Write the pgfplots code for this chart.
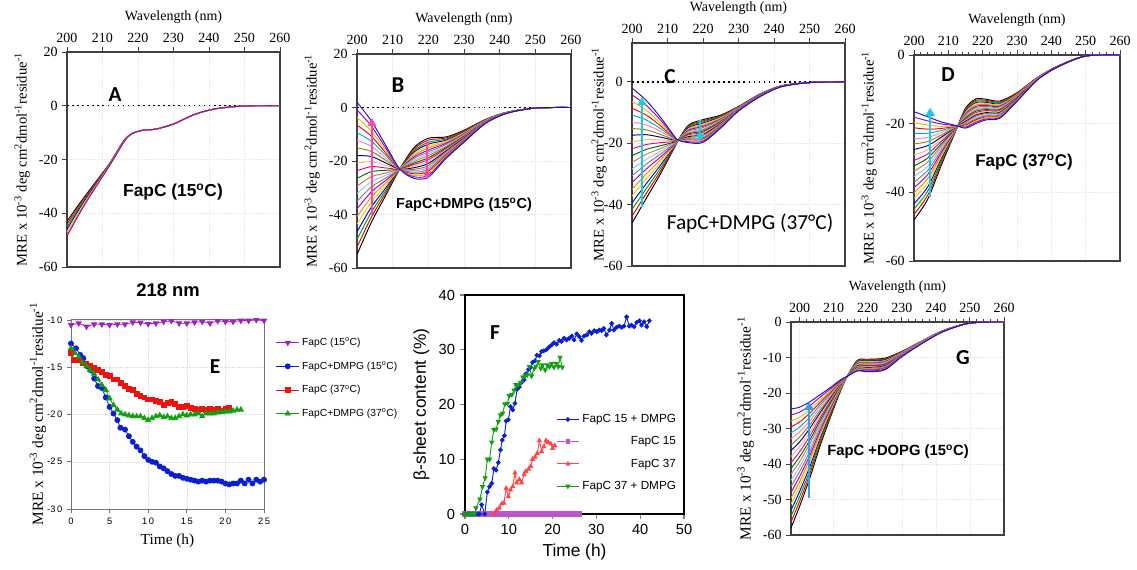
\documentclass[border=0pt]{standalone}
\usepackage{fontspec}
\setmainfont{Liberation Serif}
\newfontfamily\arial{Liberation Sans}
\newfontfamily\calibri{Carlito}
\usepackage{pgfplots}
\usepackage{pgfplotstable}
\pgfplotsset{compat=1.18}
\usetikzlibrary{arrows.meta}

\definecolor{pinkA}{HTML}{FF45A8}
\definecolor{cyanA}{HTML}{1EC8E8}
\definecolor{blueG}{HTML}{3D9BE9}
\definecolor{ePurple}{HTML}{A020C0}
\definecolor{eBlue}{HTML}{0A1FD0}
\definecolor{eRed}{HTML}{F01010}
\definecolor{eGreen}{HTML}{10A010}
\definecolor{fMag}{HTML}{BB55CC}
\definecolor{fRed}{HTML}{FF4545}

\pgfplotscreateplotcyclelist{spec}{
{color=black},{color=red!90!black},{color={rgb,255:red,0;green,160;blue,0}},{color=blue!90!black},
{color={rgb,255:red,240;green,208;blue,0}},{color=orange},{color={rgb,255:red,160;green,0;blue,192}},{color=gray},
{color={rgb,255:red,160;green,184;blue,255}},{color=brown},{color={rgb,255:red,0;green,100;blue,0}},{color=magenta},
{color={rgb,255:red,255;green,176;blue,128}},{color={rgb,255:red,0;green,0;blue,128}},{color=olive},
{color={rgb,255:red,255;green,128;blue,192}},{color={rgb,255:red,0;green,170;blue,200}},{color=red},
{color={rgb,255:red,230;green,190;blue,0}},{color={rgb,255:red,150;green,0;blue,200}},{color={rgb,255:red,20;green,20;blue,200}}}

\newcommand\tk{\fontsize{10.5}{12}\selectfont}
\newcommand\lbx{\fontsize{10.5}{12}\selectfont}
\newcommand\lby{\fontsize{11}{12}\selectfont}

\pgfplotsset{
  cdax/.style={
    scale only axis, anchor=north west,
    xmin=200, xmax=260, xtick={200,210,...,260},
    xtick pos=right, xticklabel pos=right, ytick pos=left,
    tick align=outside, major tick length=3.5pt,
    axis line style={line width=0.9pt, black!75},
    tick style={line width=0.7pt, black!75},
    grid=major, major grid style={black!10, densely dotted, line width=0.3pt},
    xlabel={Wavelength (nm)},
    ylabel={MRE x 10\textsuperscript{-3} deg cm\textsuperscript{2}dmol\textsuperscript{-1}residue\textsuperscript{-1}},
    ticklabel style={font=\tk},
    xlabel style={font=\lbx},
    ylabel style={font=\lby},
    /pgf/number format/assume math mode=true,
    cycle list name=spec,
    every axis plot/.append style={smooth, line width=0.7pt},
  },
}

\begin{document}

\pgfplotstableread[header=false]{
200 -43 -44 -45 -46 -47 -48 -48.5
204 -35.5 -36 -36.7 -37.3 -38 -38.6 -39
208 -28.5 -28.8 -29.2 -29.5 -29.9 -30.2 -30.5
212 -21.5 -21.6 -21.8 -21.9 -22 -22.2 -22.3
216 -13 -13.1 -13.2 -13.3 -13.4 -13.5 -13.6
218 -10.6 -10.6 -10.6 -10.6 -10.6 -10.6 -10.6
221 -9.2 -9.2 -9.2 -9.2 -9.2 -9.2 -9.2
225 -8.7 -8.7 -8.7 -8.7 -8.7 -8.7 -8.7
230 -6.8 -6.8 -6.8 -6.8 -6.8 -6.8 -6.8
236 -3.2 -3.2 -3.2 -3.2 -3.2 -3.2 -3.2
242 -1.1 -1.1 -1.1 -1.1 -1.1 -1.1 -1.1
250 -0.1 -0.1 -0.1 -0.1 -0.1 -0.1 -0.1
260 0 0 0 0 0 0 0
}\tabA

\pgfplotstableread[header=false]{
200 -55 -52.2 -49.3 -46.5 -43.6 -40.8 -37.9 -35.1 -32.2 -29.4 -26.5 -23.7 -20.8 -18 -15.1 -12.3 -9.4 -6.6 -3.7 -0.9 2
204 -43 -41.1 -39.2 -37.3 -35.4 -33.5 -31.6 -29.7 -27.8 -25.9 -24 -22.1 -20.2 -18.3 -16.4 -14.5 -12.6 -10.7 -8.8 -6.9 -5
208 -33 -32 -31.1 -30.2 -29.2 -28.3 -27.3 -26.4 -25.4 -24.5 -23.5 -22.6 -21.6 -20.7 -19.7 -18.8 -17.8 -16.9 -15.9 -15 -14
212 -23 -23 -23 -23 -23 -23 -23 -23 -23 -23 -23 -23 -23 -23 -23 -23 -23 -23 -23 -23 -23
216 -15 -15.6 -16.2 -16.7 -17.3 -17.9 -18.5 -19 -19.6 -20.2 -20.8 -21.3 -21.9 -22.5 -23.1 -23.6 -24.2 -24.8 -25.4 -25.9 -26.5
220 -11.5 -12.2 -13 -13.7 -14.4 -15.1 -15.9 -16.6 -17.3 -18 -18.8 -19.5 -20.2 -20.9 -21.7 -22.4 -23.1 -23.8 -24.6 -25.3 -26
225 -11 -11.4 -11.8 -12.2 -12.6 -13 -13.4 -13.8 -14.2 -14.6 -15 -15.4 -15.8 -16.2 -16.6 -17 -17.4 -17.8 -18.2 -18.6 -19
230 -8.5 -8.7 -9 -9.2 -9.4 -9.6 -9.9 -10.1 -10.3 -10.5 -10.8 -11 -11.2 -11.4 -11.7 -11.9 -12.1 -12.3 -12.6 -12.8 -13
236 -4.5 -4.6 -4.7 -4.7 -4.8 -4.9 -5 -5 -5.1 -5.2 -5.3 -5.3 -5.4 -5.5 -5.6 -5.6 -5.7 -5.8 -5.9 -5.9 -6
242 -1.8 -1.8 -1.8 -1.9 -1.9 -1.9 -1.9 -1.9 -1.9 -2 -2 -2 -2 -2 -2.1 -2.1 -2.1 -2.1 -2.1 -2.2 -2.2
250 -0.2 -0.2 -0.2 -0.2 -0.2 -0.2 -0.2 -0.2 -0.2 -0.2 -0.2 -0.2 -0.2 -0.2 -0.2 -0.2 -0.2 -0.2 -0.2 -0.2 -0.2
260 0 0 0 0 0 0 0 0 0 0 0 0 0 0 0 0 0 0 0 0 0
}\tabB

\pgfplotstableread[header=false]{
200 -46 -43.8 -41.6 -39.4 -37.2 -35 -32.8 -30.6 -28.4 -26.2 -24 -21.8 -19.6 -17.4 -15.2 -13 -10.8 -8.6 -6.4 -4.2 -2
204 -38 -36.4 -34.8 -33.2 -31.6 -30 -28.4 -26.8 -25.2 -23.6 -22 -20.4 -18.8 -17.2 -15.6 -14 -12.4 -10.8 -9.2 -7.6 -6
208 -30 -29.1 -28.2 -27.2 -26.3 -25.4 -24.5 -23.5 -22.6 -21.7 -20.8 -19.8 -18.9 -18 -17.1 -16.1 -15.2 -14.3 -13.4 -12.4 -11.5
212 -21.3 -21.1 -21 -20.8 -20.6 -20.4 -20.3 -20.1 -19.9 -19.7 -19.6 -19.4 -19.2 -19 -18.9 -18.7 -18.5 -18.3 -18.2 -18 -17.8
213 -19 -19 -19 -19 -19 -19 -19 -19 -19 -19 -19 -19 -19 -19 -19 -19 -19 -19 -19 -19 -19
216 -14 -14.3 -14.6 -14.9 -15.2 -15.5 -15.7 -16 -16.3 -16.6 -16.9 -17.2 -17.5 -17.8 -18.1 -18.4 -18.6 -18.9 -19.2 -19.5 -19.8
220 -12.3 -12.7 -13 -13.4 -13.8 -14.1 -14.5 -14.9 -15.3 -15.6 -16 -16.4 -16.7 -17.1 -17.5 -17.9 -18.2 -18.6 -19 -19.3 -19.7
225 -10.8 -11 -11.2 -11.4 -11.6 -11.9 -12.1 -12.3 -12.5 -12.7 -12.9 -13.1 -13.3 -13.5 -13.7 -14 -14.2 -14.4 -14.6 -14.8 -15
230 -8 -8.1 -8.2 -8.2 -8.3 -8.4 -8.5 -8.5 -8.6 -8.7 -8.8 -8.8 -8.9 -9 -9.1 -9.1 -9.2 -9.3 -9.4 -9.4 -9.5
236 -4 -4 -4.1 -4.1 -4.2 -4.2 -4.2 -4.3 -4.3 -4.4 -4.4 -4.4 -4.5 -4.5 -4.6 -4.6 -4.6 -4.7 -4.7 -4.8 -4.8
242 -1.3 -1.3 -1.3 -1.3 -1.3 -1.3 -1.3 -1.4 -1.4 -1.4 -1.4 -1.4 -1.4 -1.4 -1.5 -1.5 -1.5 -1.5 -1.5 -1.6 -1.6
250 -0.2 -0.2 -0.2 -0.2 -0.2 -0.2 -0.2 -0.2 -0.2 -0.2 -0.2 -0.2 -0.2 -0.2 -0.2 -0.2 -0.2 -0.2 -0.2 -0.2 -0.2
260 0 0 0 0 0 0 0 0 0 0 0 0 0 0 0 0 0 0 0 0 0
}\tabC

\pgfplotstableread[header=false]{
200 -48 -46.4 -44.9 -43.3 -41.7 -40.1 -38.6 -37 -35.4 -33.8 -32.3 -30.7 -29.1 -27.5 -25.9 -24.4 -22.8 -21.2 -19.7 -18.1 -16.5
204 -42 -40.8 -39.6 -38.4 -37.2 -36 -34.8 -33.6 -32.4 -31.2 -30 -28.8 -27.6 -26.4 -25.2 -24 -22.8 -21.6 -20.4 -19.2 -18
208 -32 -31.4 -30.8 -30.1 -29.5 -28.9 -28.3 -27.6 -27 -26.4 -25.8 -25.1 -24.5 -23.9 -23.3 -22.6 -22 -21.4 -20.8 -20.1 -19.5
212 -22.5 -22.4 -22.3 -22.2 -22.1 -22 -21.9 -21.8 -21.7 -21.6 -21.5 -21.4 -21.3 -21.2 -21.1 -21 -20.9 -20.8 -20.7 -20.6 -20.5
215 -15.5 -15.8 -16.1 -16.4 -16.7 -17 -17.2 -17.5 -17.8 -18.1 -18.4 -18.7 -19 -19.3 -19.6 -19.9 -20.1 -20.4 -20.7 -21 -21.3
218 -12.8 -13.2 -13.5 -13.9 -14.2 -14.6 -15 -15.3 -15.7 -16 -16.4 -16.8 -17.1 -17.5 -17.8 -18.2 -18.6 -18.9 -19.3 -19.6 -20
221 -12.9 -13.2 -13.5 -13.8 -14.1 -14.4 -14.7 -15 -15.3 -15.6 -15.9 -16.2 -16.5 -16.8 -17.1 -17.4 -17.7 -18 -18.3 -18.6 -18.9
225 -13.4 -13.7 -13.9 -14.2 -14.4 -14.7 -14.9 -15.2 -15.4 -15.7 -15.9 -16.2 -16.4 -16.7 -16.9 -17.2 -17.4 -17.7 -17.9 -18.2 -18.4
230 -11 -11.1 -11.3 -11.4 -11.5 -11.6 -11.8 -11.9 -12 -12.1 -12.3 -12.4 -12.5 -12.6 -12.8 -12.9 -13 -13.1 -13.3 -13.4 -13.5
236 -6.5 -6.5 -6.6 -6.6 -6.6 -6.7 -6.7 -6.7 -6.8 -6.8 -6.9 -6.9 -6.9 -7 -7 -7 -7.1 -7.1 -7.1 -7.2 -7.2
242 -3.2 -3.2 -3.2 -3.2 -3.2 -3.2 -3.2 -3.3 -3.3 -3.3 -3.3 -3.3 -3.3 -3.3 -3.4 -3.4 -3.4 -3.4 -3.4 -3.4 -3.4
250 -0.3 -0.3 -0.3 -0.3 -0.3 -0.3 -0.3 -0.3 -0.3 -0.3 -0.3 -0.3 -0.3 -0.3 -0.3 -0.3 -0.3 -0.3 -0.3 -0.3 -0.3
260 0 0 0 0 0 0 0 0 0 0 0 0 0 0 0 0 0 0 0 0 0
}\tabD

\pgfplotstableread[header=false]{
197.5 -58 -56.3 -54.7 -53 -51.3 -49.6 -48 -46.3 -44.6 -42.9 -41.3 -39.6 -37.9 -36.2 -34.6 -32.9 -31.2 -29.5 -27.9 -26.2 -24.5
200 -52 -50.6 -49.2 -47.8 -46.4 -45 -43.6 -42.2 -40.8 -39.4 -38 -36.6 -35.2 -33.8 -32.4 -31 -29.6 -28.2 -26.8 -25.4 -24
203 -44 -42.9 -41.9 -40.8 -39.7 -38.6 -37.6 -36.5 -35.4 -34.3 -33.3 -32.2 -31.1 -30 -29 -27.9 -26.8 -25.7 -24.7 -23.6 -22.5
206 -35 -34.3 -33.6 -32.8 -32.1 -31.4 -30.7 -29.9 -29.2 -28.5 -27.8 -27 -26.3 -25.6 -24.9 -24.1 -23.4 -22.7 -22 -21.2 -20.5
209 -27 -26.6 -26.2 -25.7 -25.3 -24.9 -24.5 -24 -23.6 -23.2 -22.8 -22.3 -21.9 -21.5 -21.1 -20.6 -20.2 -19.8 -19.4 -18.9 -18.5
212 -19.5 -19.3 -19.2 -19 -18.9 -18.7 -18.5 -18.4 -18.2 -18.1 -17.9 -17.7 -17.6 -17.4 -17.3 -17.1 -16.9 -16.8 -16.6 -16.5 -16.3
214 -15.3 -15.3 -15.3 -15.3 -15.3 -15.3 -15.3 -15.3 -15.3 -15.3 -15.3 -15.3 -15.3 -15.3 -15.3 -15.3 -15.3 -15.3 -15.3 -15.3 -15.3
217 -10.8 -11 -11.1 -11.3 -11.4 -11.6 -11.7 -11.9 -12 -12.2 -12.3 -12.5 -12.6 -12.8 -12.9 -13.1 -13.2 -13.4 -13.5 -13.7 -13.8
220 -10.5 -10.7 -10.9 -11 -11.2 -11.4 -11.6 -11.7 -11.9 -12.1 -12.3 -12.4 -12.6 -12.8 -13 -13.1 -13.3 -13.5 -13.7 -13.8 -14
225 -10.2 -10.4 -10.5 -10.7 -10.9 -11 -11.2 -11.4 -11.5 -11.7 -11.9 -12 -12.2 -12.3 -12.5 -12.7 -12.8 -13 -13.2 -13.3 -13.5
230 -8.3 -8.4 -8.5 -8.5 -8.6 -8.7 -8.8 -8.8 -8.9 -9 -9.1 -9.1 -9.2 -9.3 -9.4 -9.4 -9.5 -9.6 -9.7 -9.7 -9.8
236 -5.3 -5.3 -5.4 -5.4 -5.4 -5.5 -5.5 -5.5 -5.6 -5.6 -5.7 -5.7 -5.7 -5.8 -5.8 -5.8 -5.9 -5.9 -5.9 -6 -6
242 -2.5 -2.5 -2.5 -2.5 -2.5 -2.5 -2.5 -2.6 -2.6 -2.6 -2.6 -2.6 -2.6 -2.6 -2.7 -2.7 -2.7 -2.7 -2.7 -2.8 -2.8
250 -0.3 -0.3 -0.3 -0.3 -0.3 -0.3 -0.3 -0.3 -0.3 -0.3 -0.3 -0.3 -0.3 -0.3 -0.3 -0.3 -0.3 -0.3 -0.3 -0.3 -0.3
260 0 0 0 0 0 0 0 0 0 0 0 0 0 0 0 0 0 0 0 0 0
}\tabG

\begin{tikzpicture}[x=0.75pt,y=0.75pt]
\useasboundingbox (0,0) rectangle (1137,570);
\coordinate (pA) at (67,518);
\coordinate (pB) at (357,516);
\coordinate (pC) at (632,527);
\coordinate (pD) at (914,515);
\coordinate (pE) at (71,251);
\coordinate (pF) at (465,275);
\coordinate (pG) at (791,248);

% ---- A ----
\begin{axis}[cdax, at={(pA)}, width=159.75pt, height=161.25pt,
  ymin=-60, ymax=20, ytick={-60,-40,...,20}]
\addplot[black, line width=1.1pt, dash pattern=on 1.2pt off 2.6pt, sharp plot, forget plot] coordinates {(200,0) (260,0)};
\pgfplotsinvokeforeach{1,...,7}{\addplot table[x index=0, y index=#1]{\tabA};}
\end{axis}

% ---- B ----
\begin{axis}[cdax, at={(pB)}, width=160.5pt, height=160.5pt,
  ymin=-60, ymax=20, ytick={-60,-40,...,20}]
\addplot[black, line width=1.1pt, dash pattern=on 1.2pt off 2.6pt, sharp plot, forget plot] coordinates {(200,0) (260,0)};
\pgfplotsinvokeforeach{1,...,21}{\addplot table[x index=0, y index=#1]{\tabB};}
\draw[pinkA, line width=1.6pt, -{Triangle[length=6pt,width=6pt]}] (axis cs:204.2,-40.2) -- (axis cs:204.2,-3.9);
\draw[pinkA, line width=1.6pt, -{Triangle[length=6pt,width=6pt]}] (axis cs:219.6,-12.1) -- (axis cs:219.6,-27.1);
\end{axis}

% ---- C ----
\begin{axis}[cdax, at={(pC)}, width=159.75pt, height=167.25pt,
  ymin=-60, ymax=12.7, ytick={-60,-40,...,0}, ylabel shift=-9pt]
\addplot[black, line width=1.1pt, dash pattern=on 1.2pt off 2.6pt, sharp plot, forget plot] coordinates {(200,0) (260,0)};
\pgfplotsinvokeforeach{1,...,21}{\addplot table[x index=0, y index=#1]{\tabC};}
\draw[cyanA, line width=1.6pt, -{Triangle[length=6pt,width=6pt]}] (axis cs:202.8,-40.8) -- (axis cs:202.8,-4.9);
\draw[cyanA, line width=1.6pt, -{Triangle[length=6pt,width=6pt]}] (axis cs:219.2,-12.4) -- (axis cs:219.2,-19.5);
\end{axis}

% ---- D ----
\begin{axis}[cdax, at={(pD)}, width=154.5pt, height=154.5pt,
  ymin=-60, ymax=0, ytick={-60,-40,...,0}, minor x tick num=4, minor tick length=2pt]
\pgfplotsinvokeforeach{1,...,21}{\addplot table[x index=0, y index=#1]{\tabD};}
\draw[cyanA, line width=1.8pt, -{Triangle[length=6pt,width=7pt]}] (axis cs:204.7,-41.4) -- (axis cs:204.7,-15.4);
\end{axis}

% ---- G ----
\begin{axis}[cdax, at={(pG)}, width=159.75pt, height=159.75pt, xmin=197.5,
  ymin=-60, ymax=0, ytick={-60,-50,...,0}, minor x tick num=4, minor tick length=2pt,
  ylabel style={font=\fontsize{11.5}{12}\selectfont}]
\pgfplotsinvokeforeach{1,...,21}{\addplot table[x index=0, y index=#1]{\tabG};}
\draw[blueG, line width=1.8pt, -{Triangle[length=6pt,width=7pt]}] (axis cs:202.8,-49.6) -- (axis cs:202.8,-22.5);
\end{axis}

% ---- E ----
\begin{axis}[scale only axis, anchor=north west, at={(pE)}, width=144.75pt, height=142.5pt,
  xmin=0, xmax=25, ymin=-30, ymax=-9.9,
  xtick={0,5,...,25}, xticklabels={0,5,1\,0,1\,5,2\,0,2\,5},
  ytick={-30,-25,...,-10}, yticklabels={-3\,0,-2\,5,-2\,0,-1\,5,-1\,0},
  xtick pos=left, ytick pos=left, tick align=outside, major tick length=3pt,
  axis line style={black!55, line width=0.6pt}, tick style={black!55, line width=0.6pt},
  grid=major, major grid style={black!15, densely dotted, line width=0.3pt},
  ticklabel style={font=\arial\fontsize{7}{8}\selectfont},
  xlabel={Time (h)}, xlabel style={font=\fontsize{11.5}{12}\selectfont},
  ylabel={MRE x 10\textsuperscript{-3} deg cm\textsuperscript{2}dmol\textsuperscript{-1}residue\textsuperscript{-1}},
  ylabel style={font=\fontsize{11.5}{12}\selectfont}, ylabel shift=-6pt,
  legend style={draw=none, fill=none, at={(1.04,0.93)}, anchor=north west,
    font=\arial\fontsize{7.7}{9}\selectfont, row sep=6.5pt},
  legend cell align=left, clip=false]
\addplot[ePurple, line width=0.6pt, mark=triangle*, mark size=2.2pt, mark options={rotate=180}] coordinates {
(0,-10.53)(1,-10.35)(2,-10.7)(3,-10.46)(4,-10.46)(5,-10.53)(6,-10.46)(7,-10.46)(8,-10.25)(9,-10.28)(10,-10.42)(11,-10.35)(12,-10.18)(13,-10.1)(14,-10.35)(15,-10.35)(16,-10.25)(17,-10.18)(18,-10.35)(19,-10.1)(20,-10.18)(21,-10.18)(22,-10.07)(23,-10.07)(24,-10)(25,-10.07)};
\addlegendentry{FapC (15\textsuperscript{o}C)}
\addplot[eBlue, line width=0.6pt, mark=*, mark size=1.9pt] coordinates {
(0,-12.5)(0.65,-13)(1.2,-13.7)(1.6,-14.05)(2.1,-14.9)(2.5,-15.3)(3,-16.2)(3.5,-17)(4,-17.2)(4.5,-18.2)(5,-19.2)(5.5,-19.9)(6,-20.6)(6.4,-21.4)(7,-21.6)(7.5,-22.3)(8,-22.9)(8.5,-23.4)(9,-23.8)(9.5,-24.4)(10,-24.8)(10.5,-25)(11,-25.1)(11.5,-25.5)(12,-25.7)(12.5,-26)(13,-26.3)(13.5,-26.5)(14,-26.5)(14.5,-26.7)(15,-26.8)(15.5,-26.9)(16,-27)(16.5,-27.1)(17,-27)(17.5,-27.1)(18,-27)(18.5,-27)(19,-27)(19.5,-27.1)(20,-27.3)(20.5,-27.4)(21,-27.3)(21.5,-27.3)(22,-27)(22.5,-27.3)(23,-26.9)(23.5,-27.3)(24,-26.9)(24.5,-27.1)(25,-26.9)};
\addlegendentry{FapC+DMPG (15\textsuperscript{o}C)}
\addplot[eRed, line width=0.6pt, mark=square*, mark size=1.8pt] coordinates {
(0,-13.5)(0.4,-14.2)(1,-14.2)(1.5,-14.6)(2,-14.6)(2.5,-14.9)(3,-15.1)(3.5,-15.3)(4,-15.5)(4.5,-15.8)(5,-15.9)(5.5,-16.3)(6,-16.3)(6.5,-16.7)(7,-17)(7.5,-17.3)(8,-17.4)(8.5,-17.8)(9,-18)(9.5,-18.2)(10,-18.4)(10.5,-18.4)(11,-18.6)(11.5,-18.7)(12,-19)(12.5,-18.8)(13,-18.7)(13.5,-18.9)(14,-19.2)(14.5,-19.2)(15,-19.1)(15.5,-19.3)(16,-19.4)(16.5,-19.5)(17,-19.4)(17.5,-19.5)(18,-19.4)(18.5,-19.5)(19,-19.4)(19.5,-19.6)(20,-19.4)(20.5,-19.3)};
\addlegendentry{FapC (37\textsuperscript{o}C)}
\addplot[eGreen, line width=0.6pt, mark=triangle*, mark size=2.2pt] coordinates {
(0,-13)(0.5,-13.5)(1,-13.9)(1.5,-14.5)(2,-14.9)(2.5,-15.3)(3,-15.7)(3.5,-16.3)(4,-16.9)(4.5,-17.4)(5,-18.3)(5.5,-19)(6,-19.5)(6.5,-19.9)(7,-20)(7.5,-20.1)(8,-20.2)(8.5,-20.2)(9,-20.2)(9.5,-20.4)(10,-20.6)(10.5,-20.4)(11,-20.2)(11.5,-20.1)(12,-20.3)(12.5,-20.2)(13,-20.4)(13.5,-20.4)(14,-20.2)(14.5,-20)(15,-20.1)(15.5,-20)(16,-20)(16.5,-19.9)(17,-20.2)(17.5,-19.9)(18,-19.9)(18.5,-19.9)(19,-19.8)(19.5,-19.7)(20,-19.7)(20.5,-19.7)(21,-19.6)(21.5,-19.5)(22,-19.5)};
\addlegendentry{FapC+DMPG (37\textsuperscript{o}C)}
\end{axis}

% ---- F ----
\begin{axis}[scale only axis, anchor=north west, at={(pF)}, width=164.25pt, height=164.25pt,
  xmin=0, xmax=50, ymin=0, ymax=40, xtick={0,10,...,50}, ytick={0,10,...,40},
  xtick pos=left, ytick pos=left, tick align=outside, major tick length=4pt,
  axis line style={line width=0.8pt}, tick style={line width=0.8pt},
  ticklabel style={font=\arial\fontsize{11}{12}\selectfont},
  /pgf/number format/assume math mode=true,
  xlabel={Time (h)}, ylabel={β-sheet content (\%)},
  label style={font=\arial\fontsize{13}{15}\selectfont},
  legend style={draw=none, fill=none, at={(0.995,0.48)}, anchor=north east,
    font=\arial\fontsize{8.8}{10}\selectfont, row sep=5pt},
  legend cell align=right, clip=false]
\addplot[fMag, line width=1.2pt, mark=square*, mark size=1.4pt, forget plot] coordinates {
(0,0)(0.5,0)(1,0)(1.5,0)(2,0)(2.5,0)(3,0)(3.5,0)(4,0)(4.5,0)(5,0)(5.5,0)(6,0)(6.5,0)(7,0)(7.5,0)(8,0)(8.5,0)(9,0)(9.5,0)(10,0)(10.5,0)(11,0)(11.5,0)(12,0)(12.5,0)(13,0)(13.5,0)(14,0)(14.5,0)(15,0)(15.5,0)(16,0)(16.5,0)(17,0)(17.5,0)(18,0)(18.5,0)(19,0)(19.5,0)(20,0)(20.5,0)(21,0)(21.5,0)(22,0)(22.5,0)(23,0)(23.5,0)(24,0)(24.5,0)(25,0)(25.5,0)(26,0)};
\addplot[eBlue, line width=0.7pt, mark=*, mark size=1.4pt, forget plot] coordinates {
(0,0)(0.55,0)(1.1,0)(1.65,0)(2.2,0)(2.75,0)(3.3,0)(3.8,1.7)(4.5,0)(5.1,4)(5.6,5)(6.1,5.6)(6.6,8.3)(7.1,8)(7.6,9.4)(8.1,11.7)(8.5,13.5)(9,14.3)(9.4,17)(9.9,17.2)(10.4,19.6)(10.9,19)(11.4,20.2)(11.9,22.8)(12.4,23.2)(12.9,24)(13.5,24.5)(13.9,25.6)(14.5,26.4)(15,26.8)(15.4,27.7)(16,28)(16.4,29)(17,28.9)(17.5,29.7)(18,29.8)(18.6,30)(19.2,30.5)(19.8,30.9)(20.3,31.3)(20.9,31)(21.5,31.7)(22,31.5)(22.6,32.1)(23.2,31.8)(23.8,32.1)(24.4,32.5)(24.9,31.8)(25.5,32.9)(26.1,32.4)(26.6,31.7)(27.2,32.5)(27.8,32.7)(28.4,33.3)(28.9,33)(29.5,33.5)(30.1,33.3)(30.7,33.6)(31.2,33.5)(31.7,33.9)(32.3,32.7)(33,33.6)(33.5,34.8)(34,33.6)(34.6,34.1)(35.2,34.3)(35.8,34.1)(36.3,34.3)(36.9,36)(37.5,34.3)(38,34.5)(38.6,34.2)(39.2,35)(39.8,35.3)(40.3,34.5)(40.9,35.1)(41.5,34.2)(42.1,35.3)};
\addplot[fRed, line width=0.7pt, mark=triangle*, mark size=1.6pt, forget plot] coordinates {
(6.8,0)(7.2,0.7)(7.8,1.1)(8.4,1.9)(8.9,2)(9.4,4.7)(9.9,3.2)(10.4,4.4)(10.9,5)(11.4,7.5)(11.8,5.7)(12.4,6.3)(12.9,5.7)(13.5,7.2)(13.9,7.8)(14.5,8.2)(15,8.7)(15.4,10)(16,10.4)(16.5,11.1)(17,13.4)(17.5,11.4)(18,12.3)(18.5,13.4)(19,13.1)(19.6,12.8)(20,12)(20.5,12.5)};
\addplot[eGreen, line width=0.7pt, mark=triangle*, mark size=1.7pt, mark options={rotate=180}, forget plot] coordinates {
(0,0)(0.55,0)(1.1,0)(1.65,0)(2.2,0)(2.5,1.1)(3.4,2.7)(4,5)(4.6,6.6)(5.1,10)(5.6,10)(6.1,13.1)(6.6,15.4)(7.1,15.5)(7.6,16.9)(8.1,18.1)(8.6,18.4)(9.1,20.1)(9.7,20.2)(10.1,21.6)(10.7,21.8)(11.2,22.6)(11.6,23.6)(12.2,23.6)(12.7,24)(13.2,25)(13.7,25.2)(14.2,25.4)(14.7,26.9)(15.2,25.2)(15.8,26.6)(16.2,27)(16.7,27.8)(17.3,26.6)(17.7,27.2)(18.3,26.3)(18.8,27.2)(19.3,26.9)(19.8,27.5)(20.3,26.8)(20.8,27.5)(21.3,26.9)(21.7,28.6)(22.2,26.8)};
\addlegendimage{eBlue, line width=0.7pt, mark=*, mark size=1.4pt}
\addlegendentry{FapC 15 + DMPG}
\addlegendimage{fMag, line width=0.7pt, mark=square*, mark size=1.4pt}
\addlegendentry{FapC 15}
\addlegendimage{fRed, line width=0.7pt, mark=triangle*, mark size=1.6pt}
\addlegendentry{FapC 37}
\addlegendimage{eGreen, line width=0.7pt, mark=triangle*, mark size=1.7pt, mark options={rotate=180}}
\addlegendentry{FapC 37 + DMPG}
\end{axis}

% ---- panel letters and titles ----
\node[font=\calibri\bfseries\fontsize{16}{18}\selectfont] at (115,475) {A};
\node[font=\calibri\bfseries\fontsize{17}{18}\selectfont] at (398,485) {B};
\node[font=\calibri\bfseries\fontsize{16}{18}\selectfont] at (670,493) {C};
\node[font=\calibri\bfseries\fontsize{16}{18}\selectfont] at (948,495) {D};
\node[font=\calibri\bfseries\fontsize{16}{18}\selectfont] at (215,203) {E};
\node[font=\calibri\bfseries\fontsize{16}{18}\selectfont] at (495,237) {F};
\node[font=\calibri\bfseries\fontsize{16}{18}\selectfont] at (963,212) {G};

\node[font=\arial\bfseries\fontsize{13}{15}\selectfont] at (173,378) {FapC (15\textsuperscript{o}C)};
\node[font=\arial\bfseries\fontsize{10.9}{13}\selectfont] at (464,365) {FapC+DMPG (15\textsuperscript{o}C)};
\node[font=\calibri\fontsize{16}{18}\selectfont] at (750,347) {FapC+DMPG (37°C)};
\node[font=\arial\bfseries\fontsize{12.7}{15}\selectfont] at (1024,408) {FapC (37\textsuperscript{o}C)};
\node[font=\arial\bfseries\fontsize{11.1}{13}\selectfont] at (898,118) {FapC +DOPG (15\textsuperscript{o}C)};
\node[font=\arial\bfseries\fontsize{13.8}{15}\selectfont] at (168,280) {218 nm};
\end{tikzpicture}
\end{document}
